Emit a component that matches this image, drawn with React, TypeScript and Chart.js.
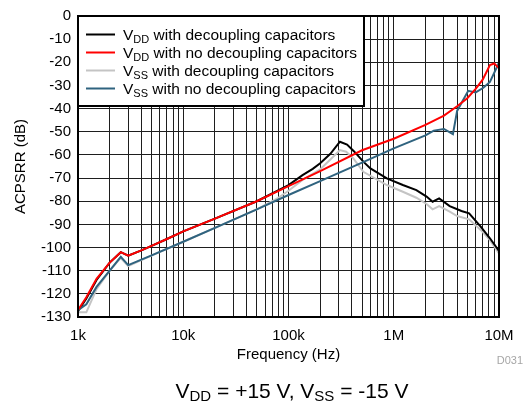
import React, { useEffect, useRef } from "react";
import { Chart, registerables } from "chart.js";

Chart.register(...registerables);

// ---- Data (frequency in Hz, ACPSRR in dB) ----
const vddDecFreq = [1000, 1200, 1500, 2000, 2550, 3000, 4000, 5000, 7000, 10000, 20000, 50000, 100000, 136000, 170000, 200000, 250000, 308000, 360000, 420000, 514000, 600000, 860000, 1220000, 1640000, 2050000, 2340000, 2700000, 3400000, 4400000, 5200000, 6700000, 8200000, 10000000];
const vddDecDb = [-127.5, -122, -114, -106.5, -102, -103.5, -101.2, -99.3, -96.3, -93, -87.5, -80, -73, -68.7, -66, -63.6, -59.5, -54.3, -55.5, -58.5, -62.9, -65.8, -70.1, -73, -75.2, -78, -80.2, -78.8, -82.1, -84.2, -85.2, -91, -96, -101.5];

const vddNoDecFreq = [1000, 1200, 1500, 2000, 2550, 3000, 4000, 5000, 7000, 10000, 20000, 50000, 100000, 200000, 500000, 1000000, 2000000, 3000000, 4000000, 5000000, 6000000, 7000000, 8200000, 9000000, 10000000];
const vddNoDecDb = [-127, -121.5, -113.5, -106.5, -102, -103.5, -101.2, -99.3, -96.3, -93, -87.5, -80, -73.5, -67, -58, -53, -47, -43, -39, -35.5, -31.5, -27.5, -21.2, -20.5, -22.5];

const vssDecFreq = [1000, 1200, 1500, 2000, 2550, 3000, 4000, 5000, 10000, 20000, 50000, 80000, 100000, 136000, 197000, 250000, 308000, 353000, 413000, 514000, 860000, 1220000, 1640000, 2050000, 2340000, 2700000, 3400000, 4000000, 5200000, 6700000, 8200000, 10000000];
const vssDecDb = [-128, -128, -118, -110, -104.5, -108, -105.4, -103.5, -97.5, -91.5, -83.5, -78.5, -75.5, -70.8, -66.5, -62, -57.9, -58.6, -61.5, -67.3, -73, -75.9, -78.5, -81.2, -83.5, -82.1, -84.5, -86.4, -87.8, -92.4, -96.8, -102.5];

const vssNoDecFreq = [1000, 1200, 1500, 2000, 2550, 3000, 4000, 5000, 10000, 20000, 50000, 100000, 200000, 500000, 1000000, 2000000, 2400000, 3000000, 3650000, 4000000, 5100000, 6000000, 7100000, 8200000, 10000000];
const vssNoDecDb = [-127, -124.5, -117, -110, -104, -107.6, -105.2, -103.4, -97.5, -91.5, -83.5, -77.3, -71.3, -63.3, -57.2, -51.6, -49.5, -48.8, -51, -41, -32.3, -33, -31, -28.5, -20.2];

const xTickValues = [1000, 10000, 100000, 1000000, 10000000];
const xTickLabels = ["1k", "10k", "100k", "1M", "10M"];

const FONT = '"Liberation Sans", Arial, sans-serif';

type Seg = { t: string; sub?: boolean };

const legendItems: { color: string; segs: Seg[] }[] = [
  { color: "#000000", segs: [{ t: "V" }, { t: "DD", sub: true }, { t: " with decoupling capacitors" }] },
  { color: "#ff0000", segs: [{ t: "V" }, { t: "DD", sub: true }, { t: " with no decoupling capacitors" }] },
  { color: "#c4c4c4", segs: [{ t: "V" }, { t: "SS", sub: true }, { t: " with decoupling capacitors" }] },
  { color: "#2f637f", segs: [{ t: "V" }, { t: "SS", sub: true }, { t: " with no decoupling capacitors" }] },
];

const captionSegs: Seg[] = [
  { t: "V" }, { t: "DD", sub: true }, { t: " = +15 V, V" }, { t: "SS", sub: true }, { t: " = -15 V" },
];

function drawRich(ctx: CanvasRenderingContext2D, segs: Seg[], x: number, y: number, size: number, subSize: number, drop: number, center: boolean) {
  let total = 0;
  const widths = segs.map((s) => {
    ctx.font = `${s.sub ? subSize : size}px ${FONT}`;
    const w = ctx.measureText(s.t).width;
    total += w;
    return w;
  });
  let cx = center ? x - total / 2 : x;
  segs.forEach((s, i) => {
    ctx.font = `${s.sub ? subSize : size}px ${FONT}`;
    ctx.fillText(s.t, cx, s.sub ? y + drop : y);
    cx += widths[i];
  });
}

const toPts = (f: number[], v: number[]) => f.map((x, i) => ({ x, y: v[i] }));

const decorPlugin = {
  id: "decor",
  afterDraw(chart: any) {
    const ctx: CanvasRenderingContext2D = chart.ctx;
    const { left, right, top, bottom } = chart.chartArea;
    ctx.save();
    ctx.fillStyle = "#000";
    ctx.textBaseline = "alphabetic";
    ctx.textAlign = "left";

    // Legend box
    const lx = left, ly = top, lw = 364 - left, lh = 106 - top;
    ctx.fillStyle = "#fff";
    ctx.fillRect(lx, ly, lw, lh);
    ctx.strokeStyle = "#000";
    ctx.lineWidth = 2;
    ctx.strokeRect(lx, ly, lw, lh);
    legendItems.forEach((it, i) => {
      const yb = 39.5 + i * 18;
      ctx.strokeStyle = it.color;
      ctx.lineWidth = 2;
      ctx.beginPath();
      ctx.moveTo(86, yb - 5);
      ctx.lineTo(115, yb - 5);
      ctx.stroke();
      ctx.fillStyle = "#000";
      drawRich(ctx, it.segs, 123, yb, 15.5, 11, 3, false);
    });

    // Plot border
    ctx.strokeStyle = "#000";
    ctx.lineWidth = 2;
    ctx.strokeRect(left, top, right - left, bottom - top);

    // Y title
    ctx.fillStyle = "#000";
    ctx.font = `15px ${FONT}`;
    ctx.save();
    ctx.translate(25, (top + bottom) / 2);
    ctx.rotate(-Math.PI / 2);
    ctx.textAlign = "center";
    ctx.fillText("ACPSRR (dB)", 0, 0);
    ctx.restore();

    // X title
    ctx.textAlign = "center";
    ctx.font = `15px ${FONT}`;
    ctx.fillText("Frequency (Hz)", (left + right) / 2, 359);

    // D031
    ctx.textAlign = "right";
    ctx.fillStyle = "#a6a6a6";
    ctx.font = `11px ${FONT}`;
    ctx.fillText("D031", 523, 364);

    // Caption
    ctx.textAlign = "left";
    ctx.fillStyle = "#000";
    drawRich(ctx, captionSegs, 292, 397.5, 21, 15, 3.5, true);
    ctx.restore();
  },
};

export default function App() {
  const ref = useRef<HTMLCanvasElement>(null);
  useEffect(() => {
    if (!ref.current) return;
    const chart = new Chart(ref.current, {
      type: "line",
      data: {
        datasets: [
          { label: "VDD dec", data: toPts(vddDecFreq, vddDecDb), borderColor: "#000000", order: 2 },
          { label: "VDD no dec", data: toPts(vddNoDecFreq, vddNoDecDb), borderColor: "#ff0000", order: 0 },
          { label: "VSS dec", data: toPts(vssDecFreq, vssDecDb), borderColor: "#c4c4c4", order: 3 },
          { label: "VSS no dec", data: toPts(vssNoDecFreq, vssNoDecDb), borderColor: "#2f637f", order: 1 },
        ].map((d) => ({ ...d, borderWidth: 2, pointRadius: 0, tension: 0, fill: false })) as any,
      },
      options: {
        responsive: false,
        devicePixelRatio: 1,
        animation: false,
        layout: { padding: { left: 0, right: 25, top: 16, bottom: 0 } },
        plugins: { legend: { display: false }, tooltip: { enabled: false } },
        scales: {
          x: {
            type: "logarithmic",
            min: 1000,
            max: 10000000,
            border: { display: false },
            grid: { color: "#1e1e1e", lineWidth: 1, drawTicks: false },
            afterBuildTicks: (scale: any) => {
              const t: { value: number }[] = [];
              for (let e = 3; e < 7; e++) {
                for (let m = 1; m <= 9; m++) t.push({ value: m * Math.pow(10, e) });
              }
              t.push({ value: 1e7 });
              scale.ticks = t;
            },
            afterFit: (scale: any) => {
              scale.height = 85;
            },
            ticks: {
              autoSkip: false,
              maxRotation: 0,
              minRotation: 0,
              padding: 10,
              color: "#000",
              font: { family: FONT, size: 15 },
              callback: (value: any) => {
                const idx = xTickValues.findIndex((v) => Math.abs(v - Number(value)) < 1e-6 * v);
                return idx >= 0 ? xTickLabels[idx] : "";
              },
            },
          },
          y: {
            min: -130,
            max: 0,
            border: { display: false },
            grid: { color: "#1e1e1e", lineWidth: 1, drawTicks: false },
            afterFit: (scale: any) => {
              scale.width = 78;
            },
            ticks: {
              stepSize: 10,
              padding: 7,
              color: "#000",
              font: { family: FONT, size: 15 },
            },
          },
        },
      },
      plugins: [decorPlugin],
    });
    return () => chart.destroy();
  }, []);
  return (
    <div style={{ position: "absolute", left: 0, top: 0, width: 524, height: 402, background: "#fff" }}>
      <canvas ref={ref} width={524} height={402} />
    </div>
  );
}
